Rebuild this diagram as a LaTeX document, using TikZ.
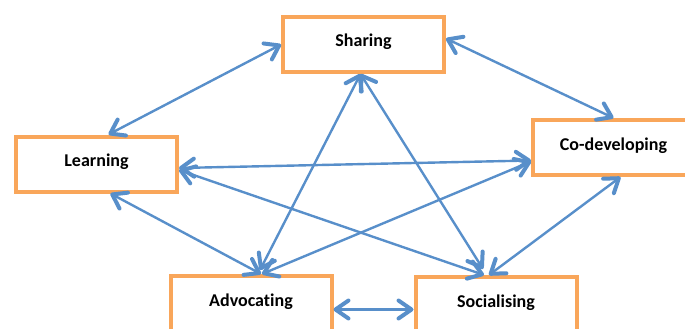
\documentclass[tikz,border=0pt]{standalone}
\usepackage{fontspec}
\setmainfont{Carlito}[RawFeature=-liga]
\usetikzlibrary{arrows.meta}

\definecolor{boxorange}{RGB}{249,166,90}
\definecolor{linkblue}{RGB}{88,143,202}

\tikzset{
  stage/.style={draw=boxorange, line width=4pt, fill=white,
    minimum width=161pt, minimum height=55pt,
    font=\fontsize{18}{20}\selectfont\bfseries,
    text height=12pt, text depth=7pt},
  link/.style={draw=linkblue, line width=2.4pt,
    >={Straight Barb[length=13pt,width=18pt,line width=4pt,round]}, <->}
}

\begin{document}
\begin{tikzpicture}[x=1pt, y=-1pt]
\useasboundingbox (0,0) rectangle (685,329);

\node [stage] (share)  at (363.5,44.5) {Sharing};
\node [stage] (learn)  at (96.5,164)   {Learning};
\node [stage] (codev)  at (613.5,147.5) {Co-developing};
\node [stage] (advoc)  at (251,303.5)  {Advocating};
\node [stage] (social) at (496,304.5)  {Socialising};

\begin{scope}[link]
  \draw ([xshift=12pt]learn.north) -- (share.west);
  \draw ([yshift=6pt]share.east) -- (codev.north);
  \draw ([yshift=-4pt]learn.east) -- ([yshift=-13pt]codev.west);
  \draw ([yshift=-6pt]learn.east) -- ([xshift=-12pt]social.north);
  \draw ([xshift=14pt]learn.south) -- ([xshift=10pt]advoc.north);
  \draw ([xshift=-3pt]share.south) -- ([xshift=9pt,yshift=4pt]advoc.north);
  \draw ([xshift=-3pt]share.south) -- ([xshift=-13pt,yshift=6pt]social.north);
  \draw ([xshift=11pt]advoc.north) -- ([yshift=-14pt]codev.west);
  \draw ([xshift=-7pt]social.north) -- ([xshift=7pt]codev.south);
  \draw ([yshift=-6pt]advoc.east) -- ([yshift=-5pt]social.west);
\end{scope}
\end{tikzpicture}
\end{document}
